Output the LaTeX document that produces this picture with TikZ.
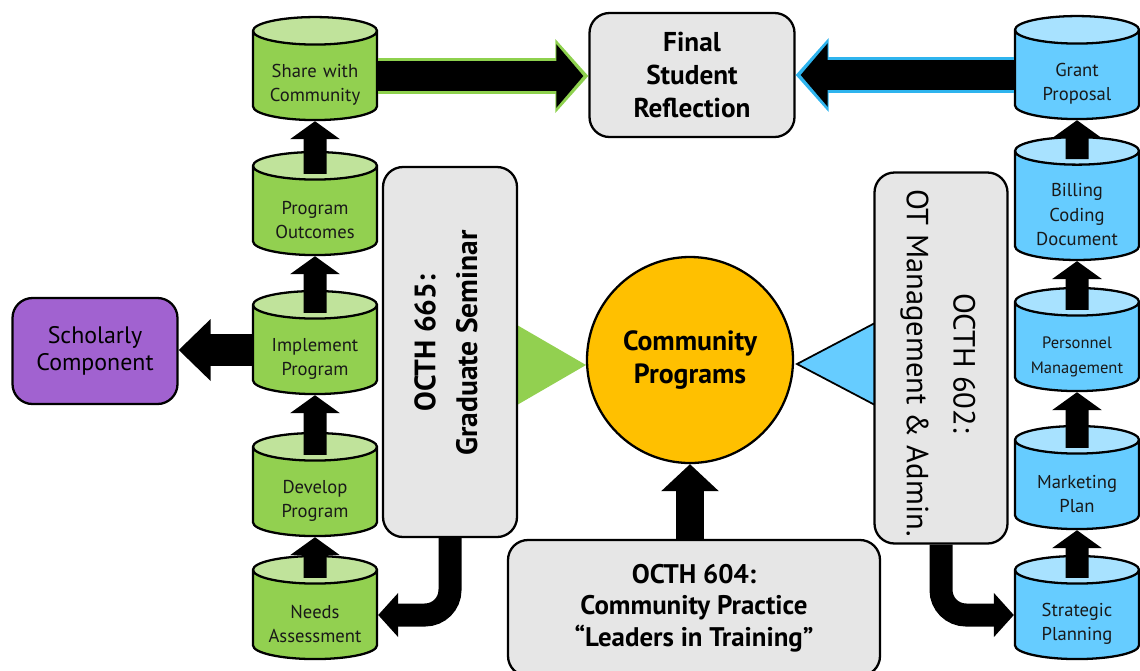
\documentclass[tikz,border=0pt]{standalone}
\usepackage{fontspec}
\setmainfont{PT Sans}
\usetikzlibrary{shapes.geometric,arrows.meta,positioning}

\definecolor{cylgreen}{HTML}{92D050}
\definecolor{topgreen}{HTML}{C0E39B}
\definecolor{cylblue}{HTML}{66CCFF}
\definecolor{topblue}{HTML}{A8E2FF}
\definecolor{boxgray}{HTML}{E6E6E6}
\definecolor{schpurple}{HTML}{A162D0}
\definecolor{progorange}{HTML}{FFC000}
\definecolor{rimgreen}{HTML}{8ED14E}
\definecolor{rimblue}{HTML}{2FB4EE}

\begin{document}
\begin{tikzpicture}
	[   x=0.2mm,y=-0.2mm,
		cyl/.style={cylinder,shape border rotate=90,draw=black,line width=1.3pt,aspect=0.25,
			cylinder uses custom fill,minimum width=24.8mm,minimum height=20.6mm,
			inner sep=0pt,text width=22mm,align=center,text=black!90},
		gcyl/.style={cyl,cylinder body fill=cylgreen,cylinder end fill=topgreen},
		bcyl/.style={cyl,cylinder body fill=cylblue,cylinder end fill=topblue},
		rbox/.style={draw=black,line width=1.3pt,rounded corners=4mm,fill=#1,align=center,inner sep=0pt},
		rbox/.default=boxgray,
	]
	\tikzset{up arrow/.style={draw,line width=4.6mm,-{Triangle[length=3.6mm,width=9.8mm]}}}
	\tikzset{fat arrow/.style={draw,line width=6mm,-{Triangle[length=5.4mm,width=12.4mm]},shorten >=1mm}}
	\tikzset{rim arrow/.style={draw=#1,line width=7.2mm,-{Triangle[length=6.6mm,width=14.4mm]}}}
	\tikzset{bent arrow/.style={draw,line width=4.6mm,rounded corners=5mm,-{Triangle[length=4mm,width=8.6mm]}}}
	\useasboundingbox (0,0) rectangle (1140,670);
	
	% triangles towards the programs
	\fill[cylgreen] (517,325) -- (586,365) -- (517,405) -- cycle;
	\filldraw[fill=cylblue,draw=black,line width=1pt] (875,323) -- (797,364) -- (875,405) -- cycle;
	
	\node[rbox,minimum width=41mm,minimum height=24.8mm,font=\fontsize{15.5}{18.7}\selectfont\bfseries] (final) at (692,75) {Final\\Student\\Reflection};
	\node[rbox=schpurple,minimum width=33mm,minimum height=21.2mm,font=\fontsize{13.6}{15.5}\selectfont] (schol) at (95,351) {Scholarly\\Component};
	
	\node[rbox,minimum width=26.8mm,minimum height=74mm] (sem) at (450,352) {};
	\node[rotate=90,align=center,font=\fontsize{16.8}{23.8}\selectfont\bfseries] (semtext) at (446,343) {OCTH 665:\\Graduate Seminar};
	
	\node[rbox,minimum width=26.6mm,minimum height=74.2mm] (adm) at (941,358) {};
	\node[rotate=-90,align=center,font=\fontsize{17.4}{26.6}\selectfont] (admtext) at (938,363) {OCTH 602:\\OT Management \& Admin.};
	
	\node[rbox,minimum width=74.4mm,minimum height=27.2mm,font=\fontsize{15.3}{18}\selectfont\bfseries] (prac) at (694,608) {OCTH 604:\\Community Practice\\``Leaders in Training''};
	
	\node[circle,draw=black,line width=1.3pt,fill=progorange,minimum size=41.2mm,inner sep=0pt,align=center,font=\fontsize{15.8}{18.7}\selectfont\bfseries] (prog) at (690,360) {Community\\Programs};
	
	\foreach \n/\y/\t in {share/76/{Share with\\Community},outc/211/{Program\\Outcomes},impl/350/{Implement\\Program},devl/492/{Develop\\Program},needs/615/{Needs\\Assessment}}
	{
		\node[gcyl,font=\fontsize{10.6}{13.6}\selectfont] (\n) at (315,\y) {\rule{0pt}{6.2mm}\t};
	}
	
	\foreach \n/\y/\s/\t in {grant/75/10.6/{Grant\\Proposal},bill/206/10.6/{Billing\\Coding\\Document},pers/347/9.4/{Personnel\\Management},mark/485/10.6/{Marketing\\Plan},strat/615/10.6/{Strategic\\Planning}}
	{
		\node[bcyl,font=\fontsize{\s}{14}\selectfont] (\n) at (1077,\y) {\rule{0pt}{6.2mm}\t};
	}
	
	\foreach \a/\b in {outc/share,impl/outc,devl/impl,needs/devl,bill/grant,pers/bill,mark/pers,strat/mark}
	{
		\path[up arrow] ([yshift=-4.6mm]\a.north) -- (\b.south);
	}
	
	\path[rim arrow=rimgreen] (share.east) -- (share.east -| final.west);
	\path[fat arrow] (share.east) -- (share.east -| final.west);
	\path[rim arrow=rimblue] (grant.west) -- (grant.west -| final.east);
	\path[fat arrow] (grant.west) -- (grant.west -| final.east);
	
	\path[draw,line width=6.4mm,-{Triangle[length=6.4mm,width=12mm]}] (impl.west) -- (impl.west -| schol.east);
	\path[draw,line width=5.6mm,-{Triangle[length=5.4mm,width=11.2mm]}] (prac.north -| prog.south) -- (prog.south);
	
	\path[bent arrow] (sem.south) |- (needs.east);
	\path[bent arrow] (adm.south) |- (strat.west);
\end{tikzpicture}
\end{document}
